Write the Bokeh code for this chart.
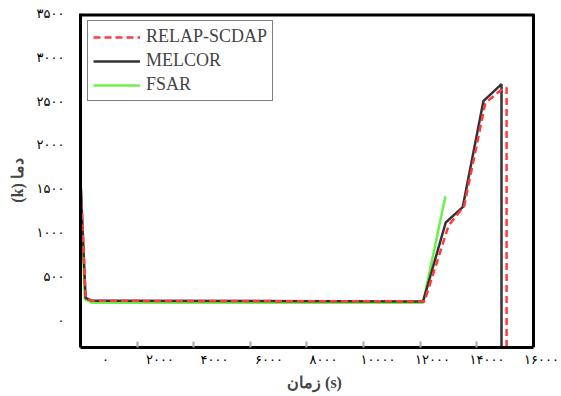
from bokeh.plotting import figure
from bokeh.models import (Range1d, LinearAxis, FixedTicker, Legend, LegendItem,
                          CustomLabelingPolicy)
from bokeh.embed import file_html
from bokeh.resources import INLINE

# Temperature history (K) against time (s) for the three codes
relap_t = [0, 180, 400, 12150, 13000, 13550, 14300, 14940, 15050, 15050]
relap_T = [1600, 255, 222, 215, 1080, 1300, 2480, 2650, 2650, -311]

melcor_t = [0, 180, 400, 12100, 12900, 13500, 14230, 14870, 14870]
melcor_T = [1600, 255, 222, 215, 1115, 1290, 2500, 2695, -311]

fsar_t = [0, 150, 400, 12100, 12890]
fsar_T = [1635, 240, 200, 200, 1415]

# Axis ticks and their Persian labels
x_ticks = [0, 2000, 4000, 6000, 8000, 10000, 12000, 14000, 16000]
x_labels = ["۰", "۲۰۰۰", "۴۰۰۰", "۶۰۰۰", "۸۰۰۰", "۱۰۰۰۰", "۱۲۰۰۰", "۱۴۰۰۰", "۱۶۰۰۰"]
y_ticks = [0, 500, 1000, 1500, 2000, 2500, 3000, 3500]
y_labels = ["۰", "۵۰۰", "۱۰۰۰", "۱۵۰۰", "۲۰۰۰", "۲۵۰۰", "۳۰۰۰", "۳۵۰۰"]

x_min, x_max = 0, 16000
y_min, y_max = -311, 3500

p = figure(width=561, height=396, output_backend="svg", toolbar_location=None,
           x_range=Range1d(x_min, 16530), y_range=Range1d(y_min, y_max),
           min_border_left=80, min_border_right=13, min_border_top=13,
           min_border_bottom=49, background_fill_color="white",
           border_fill_color="white")
p.outline_line_color = None
p.grid.visible = False

no_labels = CustomLabelingPolicy(code="return new Set()")

# Main x axis: bottom edge of the box with short inward tick marks
xa = p.xaxis[0]
xa.bounds = (x_min, x_max)
xa.ticker = FixedTicker(ticks=x_ticks[1:-1])
xa.axis_line_color = "black"
xa.axis_line_width = 3
xa.major_tick_in = 6
xa.major_tick_out = 0
xa.major_tick_line_color = "#aaaaaa"
xa.major_tick_line_width = 2
xa.minor_tick_line_color = None
xa.major_label_policy = no_labels
xa.major_label_text_font_size = "0px"
xa.major_label_standoff = 0

# Top and right edges of the box
p.segment(x0=[x_min], y0=[y_max], x1=[x_max], y1=[y_max],
          line_color="black", line_width=6)
p.segment(x0=[x_max], y0=[y_min], x1=[x_max], y1=[y_max],
          line_color="black", line_width=3)

# Label axis for the time values
p.extra_x_ranges = {"lab": Range1d(-917, 16257)}
lab = LinearAxis(x_range_name="lab")
lab.ticker = FixedTicker(ticks=x_ticks)
lab.major_label_overrides = {t: s for t, s in zip(x_ticks, x_labels)}
lab.axis_line_color = None
lab.major_tick_line_color = None
lab.minor_tick_line_color = None
lab.major_label_standoff = -2
lab.major_label_text_font = "DejaVu Sans"
lab.major_label_text_font_size = "13px"
lab.major_label_text_color = "black"
lab.axis_label = "زمان (s)"
lab.axis_label_text_font = "Liberation Serif"
lab.axis_label_text_font_style = "bold"
lab.axis_label_text_font_size = "16px"
lab.axis_label_standoff = 4
p.add_layout(lab, "below")

# y axis: left edge of the box and the temperature labels
ya = p.yaxis[0]
ya.ticker = FixedTicker(ticks=y_ticks)
ya.major_label_overrides = {t: s for t, s in zip(y_ticks, y_labels)}
ya.axis_line_color = "black"
ya.axis_line_width = 3
ya.major_tick_line_color = None
ya.minor_tick_line_color = None
ya.major_label_standoff = 10
ya.major_label_text_font = "DejaVu Sans"
ya.major_label_text_font_size = "13px"
ya.major_label_text_color = "black"
ya.axis_label = "(k) دما"
ya.axis_label_text_font = "Liberation Serif"
ya.axis_label_text_font_style = "bold"
ya.axis_label_text_font_size = "16px"
ya.axis_label_standoff = 8

r_fsar = p.line(fsar_t, fsar_T, line_color="#6cf04a", line_width=2.5)
r_mel = p.line(melcor_t, melcor_T, line_color="#333333", line_width=2.5)
r_rel = p.line(relap_t, relap_T, line_color="#ff3b3b", line_width=2.5,
               line_dash="7 4")

legend = Legend(items=[LegendItem(label="RELAP-SCDAP", renderers=[r_rel]),
                       LegendItem(label="MELCOR", renderers=[r_mel]),
                       LegendItem(label="FSAR", renderers=[r_fsar])],
                location="top_left", margin=7, padding=5, spacing=3,
                glyph_width=47, glyph_height=20, label_standoff=6,
                label_text_font="Liberation Serif", label_text_font_size="18px",
                border_line_color="black", border_line_width=1.5,
                background_fill_alpha=1)
p.add_layout(legend)

open("out.html", "w").write(file_html(p, INLINE))
